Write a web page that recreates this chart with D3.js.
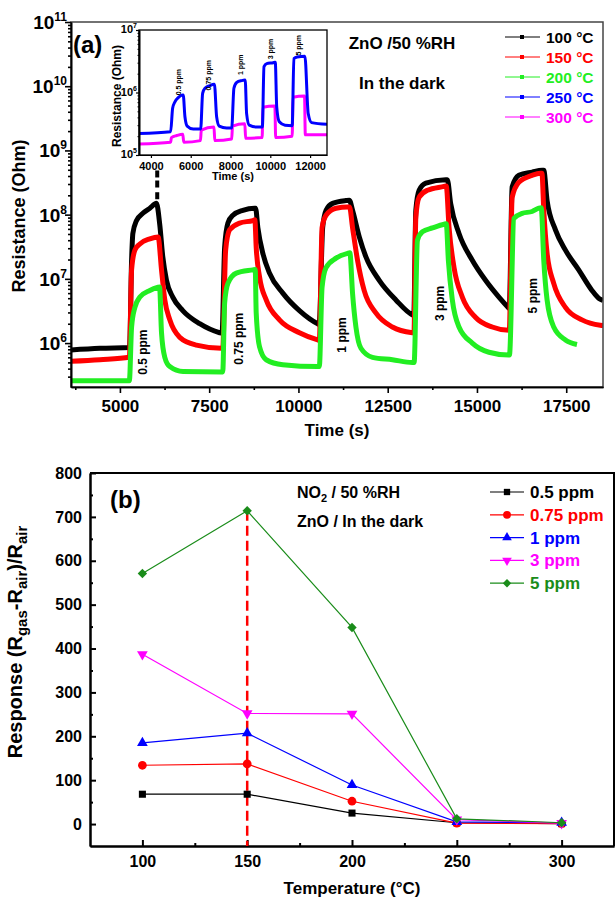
<!DOCTYPE html>
<html>
<head>
<meta charset="utf-8">
<script src="https://cdn.jsdelivr.net/npm/d3@7"></script>
<style>
  body { margin: 0; background: #fff; }
  svg { font-family: "Liberation Sans", Arial, Helvetica, sans-serif; font-weight: bold; }
</style>
</head>
<body>
<svg width="616" height="901"></svg>
<script>
// ---------- panel (a) : resistance vs time ----------
var t100 = [3630, 4440, 5270, 5327, 5363, 5466, 5642, 5838, 6023, 6117, 6201, 6304, 6480, 6760, 7235, 7793, 7860,
    7933, 8025, 8165, 8444, 8771, 8800, 8863, 9003, 9190, 9562, 10028, 10539, 10580,
    10679, 10774, 10958, 11330, 11425, 11515, 11704, 11890, 12263, 12729, 13193, 13230,
    13288, 13380, 13567, 14126, 14170, 14263, 14497, 14869, 15240, 15615, 15894, 15905,
    15985, 16173, 16545, 16824, 16871, 16964, 17198, 17478, 17849, 18221, 18408, 18530];
var r100 = [7.8e5, 8.3e5, 8.5e5, 1.95e7, 5.1e7, 8.1e7, 1.05e8, 1.26e8, 1.5e8, 6.9e7, 2.2e7, 9.5e6, 5.2e6, 3.2e6, 2.0e6, 1.45e6, 1.42e6,
    3.1e7, 7.4e7, 9.8e7, 1.17e8, 1.26e8, 1.26e8, 6.3e7, 2.5e7, 1.23e7, 6.0e6, 3.2e6, 2.0e6, 1.95e6,
    6.3e7, 1.17e8, 1.5e8, 1.66e8, 1.68e8, 1.17e8, 4.5e7, 2.2e7, 9.5e6, 4.7e6, 2.75e6, 2.7e6,
    1.17e8, 2.4e8, 3.1e8, 3.5e8, 3.5e8, 1.5e8, 5.1e7, 1.95e7, 9.5e6, 5.2e6, 3.5e6, 3.45e6,
    2.7e8, 4.1e8, 4.6e8, 4.9e8, 4.9e8, 1.66e8, 5.8e7, 2.8e7, 1.38e7, 6.6e6, 5.0e6, 4.6e6];
// stray points of the 100 °C trace above the first pulse
var tSpike100 = [6045, 6045, 6045];
var rSpike100 = [4.3e8, 3.0e8, 1.97e8];

var t150 = [3630, 4440, 5265, 5327, 5419, 5559, 5838, 6070, 6165, 6257, 6397, 6676, 7142, 7840, 7880,
    7961, 8073, 8352, 8723, 8780, 8817, 8911, 9097, 9469, 10028, 10539, 10585,
    10662, 10774, 11053, 11377, 11430, 11515, 11655, 11840, 12168, 12632, 13190, 13235,
    13288, 13380, 13612, 14078, 14140, 14218, 14358, 14590, 14964, 15427, 15894, 15905,
    15985, 16173, 16545, 16778, 16820, 16871, 16964, 17150, 17478, 17941, 18455, 18530];
var r150 = [5.2e5, 5.5e5, 6.0e5, 1.38e7, 2.8e7, 3.5e7, 4.2e7, 4.5e7, 1.38e7, 4.7e6, 2.3e6, 1.23e6, 9.3e5, 8.3e5, 8.3e5,
    2.8e7, 5.8e7, 7.4e7, 8.1e7, 8.3e7, 3.1e7, 1.07e7, 4.7e6, 2.3e6, 1.45e6, 1.12e6, 1.1e6,
    6.3e7, 9.8e7, 1.26e8, 1.32e8, 1.32e8, 6.3e7, 1.95e7, 6.6e6, 2.95e6, 1.78e6, 1.45e6, 1.44e6,
    9.1e7, 1.86e8, 2.4e8, 2.75e8, 2.8e8, 6.3e7, 1.5e7, 5.2e6, 2.5e6, 1.78e6, 1.58e6, 1.58e6,
    1.86e8, 3.2e8, 4.1e8, 4.4e8, 4.4e8, 1.17e8, 2.5e7, 8.5e6, 3.6e6, 2.3e6, 1.9e6, 1.88e6];

var t200 = [3630, 5265, 5327, 5419, 5559, 5838, 6070, 6110, 6165, 6257, 6397, 6768, 7840, 7880,
    7933, 8025, 8260, 8723, 8790, 8817, 8911, 9097, 9562, 10539, 10585,
    10662, 10774, 11053, 11377, 11440, 11515, 11610, 11750, 12073, 12632, 13190, 13240,
    13333, 13472, 13752, 14078, 14140, 14199, 14310, 14497, 14869, 15335, 15894, 15910,
    16034, 16266, 16545, 16732, 16800, 16871, 16964, 17150, 17478, 17801];
var r200 = [2.6e5, 2.6e5, 1.78e6, 3.6e6, 5.2e6, 6.6e6, 7.4e6, 7.5e6, 1.45e6, 6.0e5, 4.3e5, 3.6e5, 3.55e5, 3.55e5,
    4.2e6, 8.5e6, 1.23e7, 1.38e7, 1.4e7, 2.95e6, 8.7e5, 5.5e5, 4.6e5, 4.3e5, 4.3e5,
    7.4e6, 1.5e7, 2.1e7, 2.5e7, 2.55e7, 6.0e6, 1.78e6, 8.3e5, 6.0e5, 5.5e5, 5.0e5, 5.0e5,
    4.0e7, 5.4e7, 6.2e7, 7.1e7, 7.2e7, 1.95e7, 4.7e6, 1.78e6, 1.0e6, 7.2e5, 6.5e5, 6.5e5,
    8.7e7, 1.05e8, 1.12e8, 1.26e8, 1.28e8, 1.95e7, 4.7e6, 1.78e6, 1.12e6, 9.5e5];

// inset: 250 and 300 °C
var t250 = [3400, 4990, 5090, 5206, 5372, 5593, 5623, 5709, 5824, 6126, 6500,
    6598, 6714, 6965, 7166, 7191, 7302, 7432, 7804, 8060,
    8171, 8307, 8558, 8724, 8739, 8809, 8940, 9312, 9600,
    9683, 9819, 10151, 10236, 10251, 10322, 10452, 10739, 11100,
    11186, 11352, 11739, 11905, 12075, 12850];
var r250 = [2.2e5, 2.35e5, 5.6e5, 7.1e5, 8.3e5, 9.1e5, 9.1e5, 4.1e5, 2.9e5, 2.6e5, 2.6e5,
    9.7e5, 1.17e6, 1.29e6, 1.35e6, 1.35e6, 4.1e5, 2.9e5, 2.7e5, 2.7e5,
    1.17e6, 1.45e6, 1.55e6, 1.58e6, 1.58e6, 4.6e5, 3.0e5, 2.8e5, 2.8e5,
    2.6e6, 2.9e6, 3.0e6, 3.05e6, 3.05e6, 5.9e5, 3.4e5, 3.0e5, 2.95e5,
    3.5e6, 3.7e6, 3.8e6, 4.6e5, 3.3e5, 3.1e5];
var t300 = [3400, 4990, 5030, 5300, 5600, 5650, 6490, 6530, 7170, 7210, 8060, 8100, 8720, 8760,
    9590, 9630, 10230, 10270, 11100, 11140, 11720, 11760, 12850];
var r300 = [1.5e5, 1.6e5, 1.9e5, 2.05e5, 2.15e5, 1.6e5, 1.7e5, 2.5e5, 2.8e5, 1.7e5, 1.8e5, 2.9e5, 3.15e5, 1.85e5,
    1.9e5, 5.8e5, 6.1e5, 1.9e5, 2.0e5, 8.4e5, 8.8e5, 2.1e5, 2.1e5];

var ppmLabels = ["0.5 ppm", "0.75 ppm", "1 ppm", "3 ppm", "5 ppm"];
var ppmTimeA = [5650, 8330, 11210, 13950, 16550];   // label positions on the main plot
var ppmResA = [3.2e5, 4.6e5, 7.1e5, 2.2e6, 2.9e6];
var ppmTimeI = [5400, 6900, 8500, 10000, 11400];    // label positions in the inset
var ppmResI = [9.0e5, 1.08e6, 1.9e6, 3.4e6, 3.9e6];

var legendA = ["100 °C", "150 °C", "200 °C", "250 °C", "300 °C"];
var colorsA = ["#000000", "#ff0000", "#22ee22", "#0000ff", "#ff00ff"];

// ---------- panel (b) : response vs temperature ----------
var temps = [100, 150, 200, 250, 300];
var resp05 = [68, 68, 25, 3, 1];
var resp075 = [134, 137, 52, 2, 1];
var resp1 = [185, 207, 89, 5, 3];
var resp3 = [387, 252, 251, 10, 2];
var resp5 = [571, 714, 448, 12, 3];
var legendB = ["0.5 ppm", "0.75 ppm", "1 ppm", "3 ppm", "5 ppm"];
var colorsB = ["#000000", "#ff0000", "#0000ff", "#ff00ff", "#1a8c1a"];
var optimumTemp = 150;

var svg = d3.select("svg");

function pairs(t, r) { return t.map(function (v, i) { return [v, r[i]]; }); }

function styleAxis(g, size) {
    g.attr("font-family", null).attr("font-size", size).attr("font-weight", "bold");
    g.selectAll("path,line").attr("stroke", "#000").attr("stroke-width", 1.6);
}

// ====================== panel (a) ======================
var xA = d3.scaleLinear().domain([3630, 18530]).range([71, 603]);
var yA = d3.scaleLog().domain([2.07e5, 1e11]).range([387, 22]);

svg.append("clipPath").attr("id", "clipA").append("rect")
    .attr("x", 71).attr("y", 22).attr("width", 532).attr("height", 365);

var lineA = d3.line()
    .x(function (d) { return xA(d[0]); })
    .y(function (d) { return yA(d[1]); })
    .curve(d3.curveMonotoneX);

var mainSeries = [[t100, r100, 0], [t150, r150, 1], [t200, r200, 2]];
var gCurves = svg.append("g").attr("clip-path", "url(#clipA)");
mainSeries.forEach(function (s) {
    gCurves.append("path")
        .attr("d", lineA(pairs(s[0], s[1])))
        .attr("fill", "none")
        .attr("stroke", colorsA[s[2]])
        .attr("stroke-width", 5)
        .attr("stroke-linejoin", "round");
});
gCurves.selectAll("rect.spike")
    .data(pairs(tSpike100, rSpike100))
    .enter().append("rect")
    .attr("class", "spike")
    .attr("x", function (d) { return xA(d[0]) - 2; })
    .attr("y", function (d) { return yA(d[1]) - 3.5; })
    .attr("width", 4).attr("height", 7)
    .attr("fill", "#000");

// frame
svg.append("rect").attr("x", 71).attr("y", 22).attr("width", 532).attr("height", 365)
    .attr("fill", "none").attr("stroke", "#444").attr("stroke-width", 1.5);

// axes
var gxA = svg.append("g").attr("transform", "translate(0,387)")
    .call(d3.axisBottom(xA).tickValues([5000, 7500, 10000, 12500, 15000, 17500])
        .tickSize(6).tickSizeOuter(0).tickPadding(7).tickFormat(d3.format("d")));
styleAxis(gxA, 17);
var gxAm = svg.append("g").attr("transform", "translate(0,387)")
    .call(d3.axisBottom(xA).tickValues([3750, 6250, 8750, 11250, 13750, 16250])
        .tickSize(3).tickSizeOuter(0).tickFormat(""));
styleAxis(gxAm, 10);

var decA = [1e6, 1e7, 1e8, 1e9, 1e10, 1e11];
var minorA = [];
[5, 6, 7, 8, 9, 10].forEach(function (e) {
    for (var k = 2; k <= 9; k++) {
        var v = k * Math.pow(10, e);
        if (v > 2.07e5 && v < 1e11) minorA.push(v);
    }
});
var gyA = svg.append("g").attr("transform", "translate(71,0)")
    .call(d3.axisLeft(yA).tickValues(decA).tickSize(6).tickSizeOuter(0).tickFormat(""));
styleAxis(gyA, 10);
var gyAm = svg.append("g").attr("transform", "translate(71,0)")
    .call(d3.axisLeft(yA).tickValues(minorA).tickSize(3).tickSizeOuter(0).tickFormat(""));
styleAxis(gyAm, 10);

decA.forEach(function (v) {
    var t = svg.append("text")
        .attr("x", 67).attr("y", yA(v) + 7)
        .attr("text-anchor", "end").attr("font-size", 19);
    t.append("tspan").text("10");
    t.append("tspan").attr("dy", -8).attr("font-size", 12).text(Math.round(Math.log10(v)));
});

svg.append("text").attr("x", 337).attr("y", 436).attr("text-anchor", "middle")
    .attr("font-size", 17).text("Time (s)");
svg.append("text").attr("transform", "translate(25,216) rotate(-90)")
    .attr("text-anchor", "middle").attr("font-size", 18).text("Resistance (Ohm)");

// ppm labels, main plot
ppmLabels.forEach(function (p, i) {
    svg.append("text")
        .attr("transform", "translate(" + xA(ppmTimeA[i]) + "," + yA(ppmResA[i]) + ") rotate(-90)")
        .attr("dy", "0.35em").attr("font-size", 12).text(p);
});

svg.append("text").attr("x", 73).attr("y", 53).attr("font-size", 24).text("(a)");
svg.append("text").attr("x", 402).attr("y", 49).attr("text-anchor", "middle")
    .attr("font-size", 17).text("ZnO /50 %RH");
svg.append("text").attr("x", 402).attr("y", 89).attr("text-anchor", "middle")
    .attr("font-size", 17).text("In the dark");

// legend (a)
legendA.forEach(function (name, i) {
    var cy = 37 + i * 20;
    svg.append("line").attr("x1", 505).attr("x2", 540).attr("y1", cy).attr("y2", cy)
        .attr("stroke", colorsA[i]).attr("stroke-width", 1);
    svg.append("rect").attr("x", 520).attr("y", cy - 2).attr("width", 4).attr("height", 4)
        .attr("fill", colorsA[i]);
    svg.append("text").attr("x", 546).attr("y", cy + 5.5).attr("font-size", 15.5)
        .attr("fill", colorsA[i]).text(name);
});

// ---------- inset ----------
var xI = d3.scaleLinear().domain([3400, 12850]).range([139, 327]);
var yI = d3.scaleLog().domain([1e5, 1e7]).range([155, 30]);
var lineI = d3.line()
    .x(function (d) { return xI(d[0]); })
    .y(function (d) { return yI(d[1]); })
    .curve(d3.curveMonotoneX);

svg.append("rect").attr("x", 139).attr("y", 30).attr("width", 188).attr("height", 125)
    .attr("fill", "#fff");
svg.append("clipPath").attr("id", "clipI").append("rect")
    .attr("x", 139).attr("y", 30).attr("width", 188).attr("height", 125);
var gIn = svg.append("g").attr("clip-path", "url(#clipI)");
[[t300, r300, 4], [t250, r250, 3]].forEach(function (s) {
    gIn.append("path")
        .attr("d", lineI(pairs(s[0], s[1])))
        .attr("fill", "none")
        .attr("stroke", colorsA[s[2]])
        .attr("stroke-width", 3);
});
svg.append("rect").attr("x", 139).attr("y", 30).attr("width", 188).attr("height", 125)
    .attr("fill", "none").attr("stroke", "#000").attr("stroke-width", 1.3);

var gxI = svg.append("g").attr("transform", "translate(0,155)")
    .call(d3.axisBottom(xI).tickValues([4000, 6000, 8000, 10000, 12000])
        .tickSize(3).tickSizeOuter(0).tickPadding(4).tickFormat(d3.format("d")));
styleAxis(gxI, 11);
gxI.selectAll("path,line").attr("stroke-width", 1.2);
var minorI = [];
[5, 6].forEach(function (e) {
    for (var k = 2; k <= 9; k++) minorI.push(k * Math.pow(10, e));
});
var gyI = svg.append("g").attr("transform", "translate(139,0)")
    .call(d3.axisLeft(yI).tickValues([1e5, 1e6, 1e7]).tickSize(3).tickSizeOuter(0).tickFormat(""));
styleAxis(gyI, 10);
var gyIm = svg.append("g").attr("transform", "translate(139,0)")
    .call(d3.axisLeft(yI).tickValues(minorI).tickSize(1.5).tickSizeOuter(0).tickFormat(""));
styleAxis(gyIm, 10);
gyI.selectAll("line").attr("stroke-width", 1.2);
gyIm.selectAll("line").attr("stroke-width", 1);
[1e5, 1e6, 1e7].forEach(function (v) {
    var t = svg.append("text").attr("x", 137).attr("y", yI(v) + 3)
        .attr("text-anchor", "end").attr("font-size", 11);
    t.append("tspan").text("10");
    t.append("tspan").attr("dy", -5).attr("font-size", 7).text(Math.round(Math.log10(v)));
});
svg.append("text").attr("x", 233).attr("y", 180).attr("text-anchor", "middle")
    .attr("font-size", 11).text("Time (s)");
svg.append("text").attr("transform", "translate(121,96) rotate(-90)")
    .attr("text-anchor", "middle").attr("font-size", 12).text("Resistance (Ohm)");
ppmLabels.forEach(function (p, i) {
    svg.append("text")
        .attr("transform", "translate(" + xI(ppmTimeI[i]) + "," + yI(ppmResI[i]) + ") rotate(-90)")
        .attr("dy", "0.35em").attr("font-size", 7).text(p);
});

// ====================== panel (b) ======================
var xB = d3.scaleLinear().domain([75, 325]).range([90, 614]);
var yB = d3.scaleLinear().domain([-50, 800]).range([846, 473]);

var gxB = svg.append("g").attr("transform", "translate(0,846)")
    .call(d3.axisBottom(xB).tickValues(temps).tickSize(-6).tickSizeOuter(0).tickPadding(10));
styleAxis(gxB, 16);
var gxBm = svg.append("g").attr("transform", "translate(0,846)")
    .call(d3.axisBottom(xB).tickValues([125, 175, 225, 275]).tickSize(-3).tickSizeOuter(0).tickFormat(""));
styleAxis(gxBm, 10);
var gyB = svg.append("g").attr("transform", "translate(90,0)")
    .call(d3.axisLeft(yB).tickValues(d3.range(0, 801, 100)).tickSize(-6).tickSizeOuter(0).tickPadding(8));
styleAxis(gyB, 16);
var gyBm = svg.append("g").attr("transform", "translate(90,0)")
    .call(d3.axisLeft(yB).tickValues(d3.range(50, 800, 100)).tickSize(-3).tickSizeOuter(0).tickFormat(""));
styleAxis(gyBm, 10);
[gxB, gyB, gxBm, gyBm].forEach(function (g) { g.selectAll("path,line").attr("stroke-width", 2); });
svg.append("path").attr("d", "M90,473H614V846")
    .attr("fill", "none").attr("stroke", "#000").attr("stroke-width", 2);

// red dashed marker at optimum temperature
svg.append("line")
    .attr("x1", xB(optimumTemp)).attr("x2", xB(optimumTemp))
    .attr("y1", yB(d3.max(resp5))).attr("y2", yB(-50))
    .attr("stroke", "#ff0000").attr("stroke-width", 2.5).attr("stroke-dasharray", "10,5");

var seriesB = [resp05, resp075, resp1, resp3, resp5];
var symbolsB = [
    { type: d3.symbolSquare, size: 50, rot: 0 },
    { type: d3.symbolCircle, size: 60, rot: 0 },
    { type: d3.symbolTriangle, size: 50, rot: 0 },
    { type: d3.symbolTriangle, size: 50, rot: 180 },
    { type: d3.symbolSquare, size: 44, rot: 45 }
];
var lineB = d3.line()
    .x(function (d, i) { return xB(temps[i]); })
    .y(function (d) { return yB(d); });

seriesB.forEach(function (vals, s) {
    svg.append("path").attr("d", lineB(vals))
        .attr("fill", "none").attr("stroke", colorsB[s]).attr("stroke-width", 1.2);
    svg.selectAll("path.m" + s)
        .data(vals)
        .enter().append("path")
        .attr("class", "m" + s)
        .attr("d", d3.symbol().type(symbolsB[s].type).size(symbolsB[s].size))
        .attr("transform", function (d, i) {
            return "translate(" + xB(temps[i]) + "," + yB(d) + ") rotate(" + symbolsB[s].rot + ")";
        })
        .attr("fill", colorsB[s]);
});

// legend (b)
legendB.forEach(function (name, i) {
    var cy = 492 + i * 22.8;
    svg.append("line").attr("x1", 490).attr("x2", 524).attr("y1", cy).attr("y2", cy)
        .attr("stroke", colorsB[i]).attr("stroke-width", 1.2);
    svg.append("path")
        .attr("d", d3.symbol().type(symbolsB[i].type).size(symbolsB[i].size * 0.8))
        .attr("transform", "translate(507," + cy + ") rotate(" + symbolsB[i].rot + ")")
        .attr("fill", colorsB[i]);
    svg.append("text").attr("x", 530).attr("y", cy + 6).attr("font-size", 17)
        .attr("fill", colorsB[i]).text(name);
});

svg.append("text").attr("x", 110).attr("y", 508).attr("font-size", 24).text("(b)");
var no2 = svg.append("text").attr("x", 297).attr("y", 498).attr("font-size", 16);
no2.append("tspan").text("NO");
no2.append("tspan").attr("dy", 4).attr("font-size", 11).text("2");
no2.append("tspan").attr("dy", -4).text(" / 50 %RH");
svg.append("text").attr("x", 297).attr("y", 527).attr("font-size", 16).text("ZnO / In the dark");

svg.append("text").attr("x", 352).attr("y", 894).attr("text-anchor", "middle")
    .attr("font-size", 17).text("Temperature (°C)");

var yl = svg.append("text").attr("transform", "translate(22,642) rotate(-90)")
    .attr("text-anchor", "middle").attr("font-size", 20);
yl.append("tspan").text("Response (R");
yl.append("tspan").attr("dy", 5).attr("font-size", 15).text("gas");
yl.append("tspan").attr("dy", -5).text("-R");
yl.append("tspan").attr("dy", 5).attr("font-size", 15).text("air");
yl.append("tspan").attr("dy", -5).text(")/R");
yl.append("tspan").attr("dy", 5).attr("font-size", 15).text("air");
</script>
</body>
</html>
